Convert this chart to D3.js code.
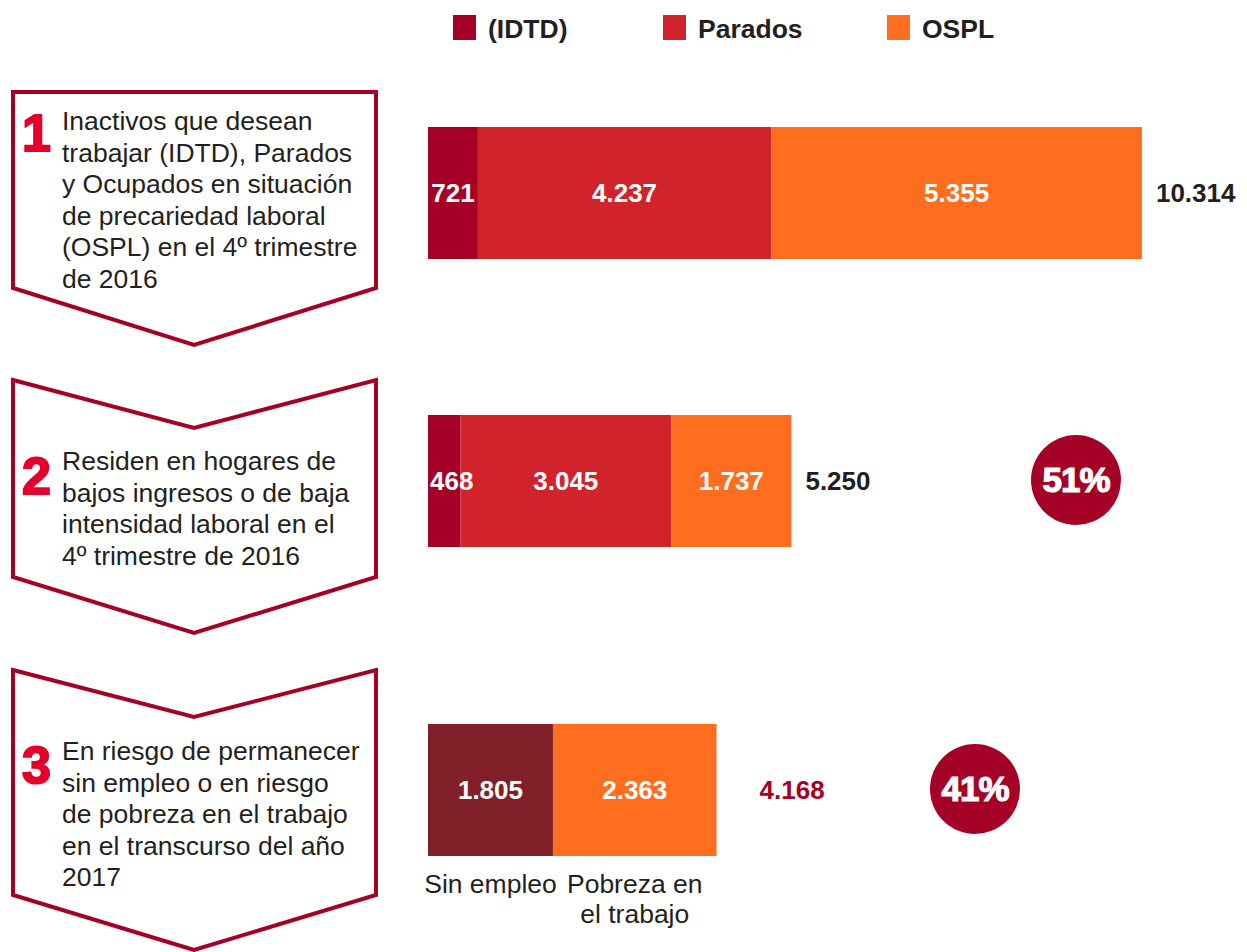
<!DOCTYPE html>
<html>
<head>
<meta charset="utf-8">
<script src="https://cdn.jsdelivr.net/npm/d3@7"></script>
<style>
  body { margin: 0; background: #fff; }
  svg { font-family: "Liberation Sans", Arial, sans-serif; }
</style>
</head>
<body>
<svg id="chart" width="1247" height="952"></svg>
<script>
// data
const legendKeys = ['(IDTD)', 'Parados', 'OSPL'];
const row1Values = [721, 4237, 5355];
const row2Values = [468, 3045, 1737];
const row3Values = [1805, 2363];
const row3Categories = [['Sin empleo'], ['Pobreza en', 'el trabajo']];
const totals = [10314, 5250, 4168];
const shares = [null, 51, 41];
const stepNumbers = ['1', '2', '3'];
const stepTexts = [
  ['Inactivos que desean', 'trabajar (IDTD), Parados', 'y Ocupados en situación', 'de precariedad laboral', '(OSPL) en el 4º trimestre', 'de 2016'],
  ['Residen en hogares de', 'bajos ingresos o de baja', 'intensidad laboral en el', '4º trimestre de 2016'],
  ['En riesgo de permanecer', 'sin empleo o en riesgo', 'de pobreza en el trabajo', 'en el transcurso del año', '2017']
];

const crimson = '#a50026';
const textColor = '#231f20';
const legendColor = d3.scaleOrdinal().domain(legendKeys).range(['#a50026', '#d0232b', '#ff6d1f']);
const row3Color = ['#82202a', '#ff6d1f'];

const esLocale = d3.formatLocale({decimal: ',', thousands: '.', grouping: [3], currency: ['', ' €']});
const fmt = esLocale.format(',d');

const svg = d3.select('#chart');

// legend
const legendX = [453, 663, 887];
legendKeys.forEach(function (key, i) {
  svg.append('rect')
    .attr('x', legendX[i]).attr('y', 15)
    .attr('width', 23).attr('height', 25)
    .attr('fill', legendColor(key));
  svg.append('text')
    .attr('x', legendX[i] + 35).attr('y', 38)
    .attr('font-size', 26.5).attr('font-weight', 'bold')
    .attr('fill', textColor)
    .text(key);
});

// step arrows
const arrowPaths = [
  'M13,92 L376,92 L376,288 L194,345 L13,288 Z',
  'M13,380 L194,428 L376,380 L376,577 L194,633 L13,577 Z',
  'M13,670 L194,717 L376,670 L376,895 L194,950 L13,895 Z'
];
const textTop = [130, 470, 760];
const numTop = [151, 494, 783];

arrowPaths.forEach(function (p, i) {
  svg.append('path')
    .attr('d', p)
    .attr('fill', '#fff')
    .attr('stroke', crimson)
    .attr('stroke-width', 4)
    .attr('stroke-linejoin', 'miter');

  svg.append('text')
    .attr('x', 22).attr('y', numTop[i])
    .attr('font-size', 52).attr('font-weight', 'bold')
    .attr('fill', '#e4002b')
    .attr('stroke', '#e4002b').attr('stroke-width', 2)
    .text(stepNumbers[i]);

  let t = svg.append('text')
    .attr('x', 62).attr('y', textTop[i])
    .attr('font-size', 26.5)
    .attr('fill', textColor);
  t.selectAll('tspan')
    .data(stepTexts[i])
    .join('tspan')
    .attr('x', 62)
    .attr('dy', (d, j) => j === 0 ? 0 : 31.6)
    .text(d => d);
});

// bars
const barX0 = 428;
const barH = 132;
const barY = [127, 415, 724];
const x = d3.scaleLinear().domain([0, d3.max(totals)]).range([0, 714]);

function stack(values) {
  let acc = 0;
  return values.map(function (v, i) {
    let d = {value: v, start: acc, end: acc + v, i: i};
    acc += v;
    return d;
  });
}

const rows = [
  {values: stack(row1Values), color: (d) => legendColor(legendKeys[d.i])},
  {values: stack(row2Values), color: (d) => legendColor(legendKeys[d.i])},
  {values: stack(row3Values), color: (d) => row3Color[d.i]}
];

rows.forEach(function (row, r) {
  let g = svg.append('g').attr('transform', `translate(${barX0},${barY[r]})`);

  g.selectAll('rect.seg')
    .data(row.values)
    .join('rect')
    .attr('class', 'seg')
    .attr('x', d => x(d.start))
    .attr('y', 0)
    .attr('width', d => x(d.end) - x(d.start))
    .attr('height', barH)
    .attr('fill', row.color);

  // labels after all rects so a wide label is not hidden by the next segment
  g.selectAll('text.val')
    .data(row.values)
    .join('text')
    .attr('class', 'val')
    .attr('x', d => (x(d.start) + x(d.end)) / 2)
    .attr('y', barH / 2 + 9)
    .attr('text-anchor', 'middle')
    .attr('font-size', 26).attr('font-weight', 'bold')
    .attr('fill', '#fff')
    .text(d => fmt(d.value))
    .each(function (d) {
      let w = this.getComputedTextLength();
      if (w > x(d.end) - x(d.start) - 4) {
        d3.select(this).attr('text-anchor', 'start').attr('x', x(d.start) + 2);
      }
    });

  let end = x(row.values[row.values.length - 1].end);
  g.append('text')
    .attr('x', end + (r === 2 ? 43 : 14))
    .attr('y', barH / 2 + 9)
    .attr('font-size', 26).attr('font-weight', 'bold')
    .attr('fill', r === 2 ? crimson : textColor)
    .text(fmt(totals[r]));

  if (r === 2) {
    let cat = g.selectAll('text.cat')
      .data(row.values)
      .join('text')
      .attr('class', 'cat')
      .attr('x', d => (x(d.start) + x(d.end)) / 2)
      .attr('y', barH + 37)
      .attr('text-anchor', 'middle')
      .attr('font-size', 26.5)
      .attr('fill', textColor);
    cat.selectAll('tspan')
      .data(d => row3Categories[d.i])
      .join('tspan')
      .attr('x', function () { return d3.select(this.parentNode).attr('x'); })
      .attr('dy', (d, j) => j === 0 ? 0 : 30)
      .text(d => d);
  }
});

// share circles
const circleX = [null, 1076, 975];
shares.forEach(function (s, r) {
  if (s === null) return;
  let cy = barY[r] + barH / 2 - 1;
  svg.append('circle')
    .attr('cx', circleX[r]).attr('cy', cy)
    .attr('r', 45)
    .attr('fill', crimson);
  svg.append('text')
    .attr('x', circleX[r]).attr('y', cy + 12)
    .attr('text-anchor', 'middle')
    .attr('font-size', 35).attr('font-weight', 'bold')
    .attr('letter-spacing', -1)
    .attr('fill', '#fff')
    .attr('stroke', '#fff').attr('stroke-width', 1.2)
    .text(s + '%');
});
</script>
</body>
</html>
